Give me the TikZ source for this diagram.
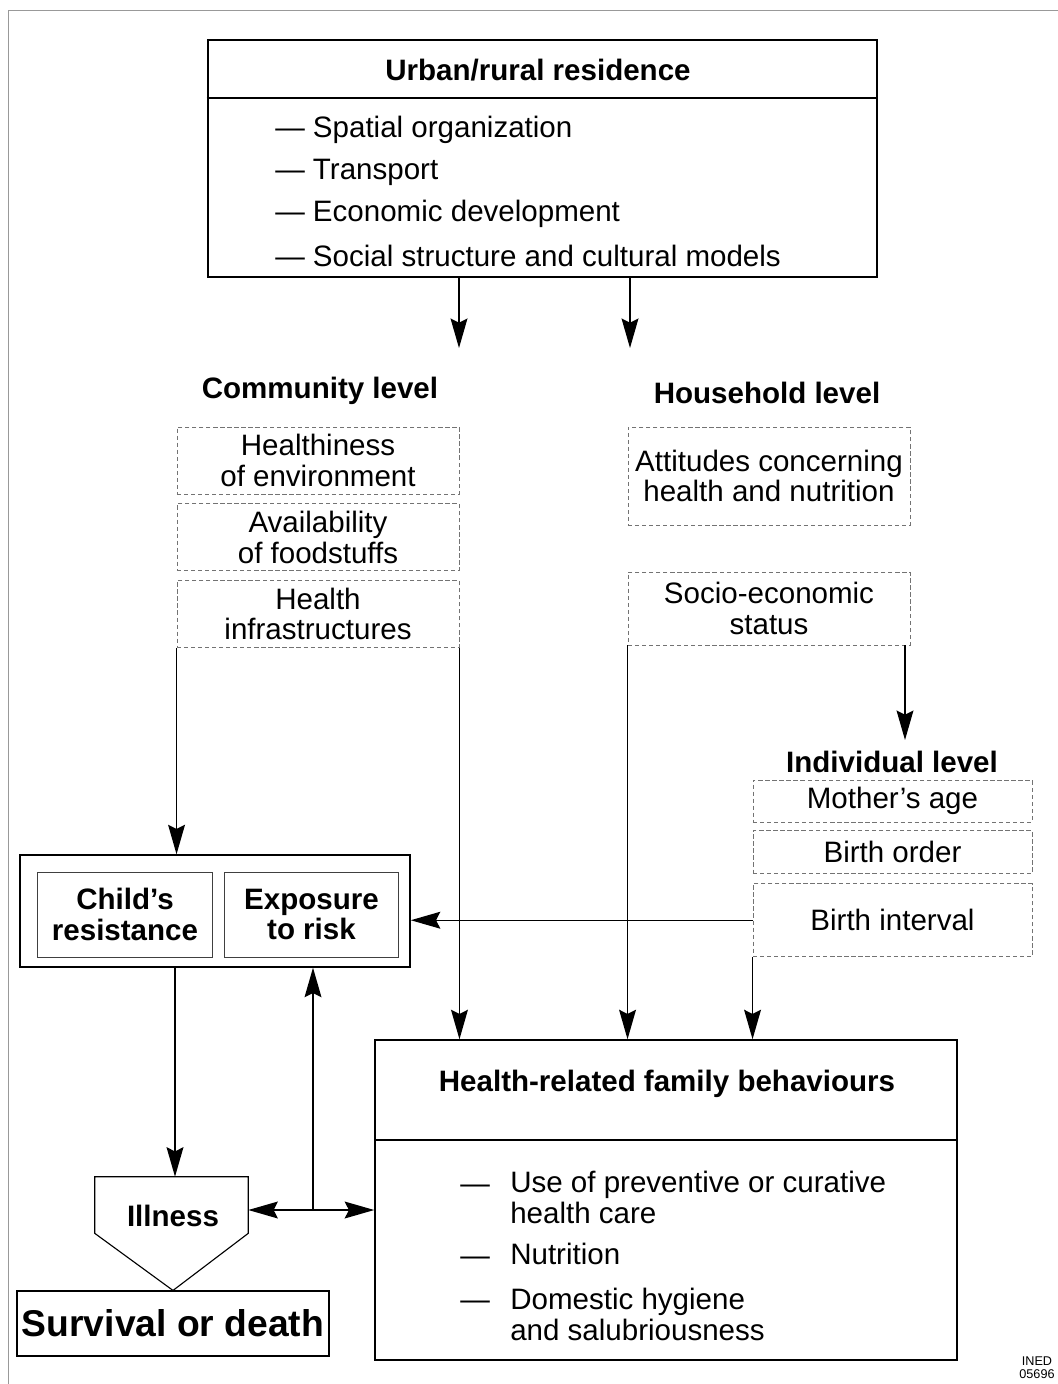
\documentclass[tikz,border=0pt]{standalone}
\usepackage{fontspec}
\setmainfont{Liberation Sans}
\usetikzlibrary{arrows.meta,positioning,calc}

\begin{document}
\begin{tikzpicture}[
    x=0.025cm, y=-0.025cm,
    font=\fontsize{21}{21.5}\selectfont,
    box/.style={draw, line width=1pt, inner sep=0pt},
    faint/.style={draw=black!55, densely dashed, line width=0.6pt, inner sep=0pt, align=center},
    combox/.style={faint, minimum width=7.05cm, minimum height=1.675cm},
    indbox/.style={faint, minimum width=6.975cm},
    inner/.style={box, draw=black!75, line width=0.7pt, minimum width=4.35cm, minimum height=2.125cm, align=center, head},
    head/.style={font=\fontsize{21}{21.5}\selectfont\bfseries},
    item/.style={anchor=west, inner sep=0pt, align=left, font=\fontsize{21}{22}\selectfont},
    arrow/.style={-{Stealth[length=21pt, width=12pt, inset=3pt]}, line width=1pt},
    darrow/.style={{Stealth[length=21pt, width=12pt, inset=3pt]}-{Stealth[length=21pt, width=12pt, inset=3pt]}, line width=1pt}
]
    \useasboundingbox (0,0) rectangle (1058,1384);
    % Frame
    \draw[black!40, line width=0.5pt] (8,1384) -- (8,10) -- (1058,10);

    % Residence
    \node[box, line width=2pt, minimum width=16.725cm, minimum height=5.925cm] (urban) at (542.5,158.5) {};
    \coordinate (usep) at (0,98);
    \draw[line width=1.5pt] (urban.west |- usep) -- (urban.east |- usep);
    \node[head] (utitle) at (538,70) {Urban/rural residence};
    \node[item] (u1) at (275,130) {--- Spatial organization};
    \node[item] (u2) at (275,172) {--- Transport};
    \node[item] (u3) at (275,214) {--- Economic development};
    \node[item] (u4) at (275,256) {--- Social structure and cultural models};

    % Levels
    \node[head] (comm) at (320,391) {Community level};
    \node[head] (house) at (767,393) {Household level};
    \node[head] (indiv) at (892,762) {Individual level};

    % Community factors
    \node[combox] (env) at (318,460.5) {Healthiness\\of environment};
    \node[combox, below=0.225cm of env] (food) {Availability\\of foodstuffs};
    \node[combox, below=0.225cm of food] (infra) {Health\\infrastructures};

    % Household factors
    \node[faint, minimum width=7.05cm, minimum height=2.45cm] (attit) at (769,476) {Attitudes concerning\\health and nutrition};
    \node[faint, minimum width=7.05cm, minimum height=1.825cm] (socio) at (769,608.5) {Socio-economic\\status};

    % Individual factors
    \node[indbox, minimum height=1.05cm] (mage) at (892.5,801) {Mother's age};
    \node[indbox, minimum height=1.075cm, below=0.2cm of mage] (border) {Birth order};
    \node[indbox, minimum height=1.825cm, below=0.225cm of border] (binter) {Birth interval};

    % Child
    \node[box, minimum width=9.75cm, minimum height=2.8cm] (child) at (215,911) {};
    \node[inner] (resist) at (125,914.5) {Child's\\resistance};
    \node[inner, minimum width=4.325cm] (expo) at (311.5,914.5) {Exposure\\to risk};

    % Illness and outcome
    \node[inner sep=0pt, minimum width=3.825cm, minimum height=1.4cm] (illness) at (171.5,1205) {};
    \node[head] (illtxt) at (173,1216) {Illness};
    \node[box, line width=0.8pt, minimum width=7.8cm, minimum height=1.625cm, font=\fontsize{26.5}{28}\selectfont\bfseries] (surv) at (173,1323.5) {Survival or death};
    \draw[line width=0.8pt] (illness.north west) -- (illness.north east) -- (illness.south east)
        -- (surv.north) -- (illness.south west) -- cycle;

    % Behaviours
    \node[box, minimum width=14.55cm, minimum height=8cm] (health) at (666,1200) {};
    \coordinate (hsep) at (0,1140);
    \draw[line width=0.8pt] (health.west |- hsep) -- (health.east |- hsep);
    \node[head] (htitle) at (667,1084) {Health-related family behaviours};
    \node[item] (d1) at (460,1187) {\strut---};
    \node[item] (h1) at (510,1197.5) {Use of preventive or curative\\health care};
    \node[item] (d2) at (460,1259) {\strut---};
    \node[item] (h2) at (510,1254) {Nutrition};
    \node[item] (d3) at (460,1303) {\strut---};
    \node[item] (h3) at (510,1314.5) {Domestic hygiene\\and salubriousness};

    \node[font=\fontsize{9}{9}\selectfont, align=center] (ined) at (1037,1368) {INED\\05696};

    % Connections
    \coordinate (cl) at (459,348);
    \coordinate (hl) at (630,348);
    \coordinate (st) at (905,740);
    \coordinate (cr) at (175,0);
    \coordinate (jn) at (313,1210);
    \draw[arrow] (urban.south -| cl) -- (cl);
    \draw[arrow] (urban.south -| hl) -- (hl);
    \draw[arrow] (infra.south west) -- (infra.south west |- child.north);
    \draw[arrow] (infra.south east) -- (infra.south east |- health.north);
    \draw[arrow] (socio.south west) -- (socio.south west |- health.north);
    \draw[arrow] (socio.south -| st) -- (st);
    \draw[arrow] (binter.west) -- (binter.west -| child.east);
    \draw[arrow] (binter.south west) -- (binter.south west |- health.north);
    \draw[arrow] (child.south -| cr) -- (illness.north -| cr);
    \draw[darrow] (illness.east |- jn) -- (health.west |- jn);
    \draw[arrow] (jn) -- (jn |- child.south);
\end{tikzpicture}
\end{document}
